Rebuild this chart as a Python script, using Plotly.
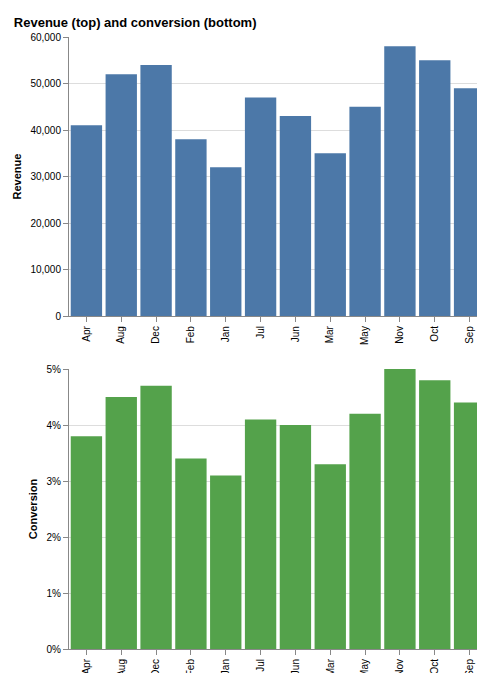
import plotly.graph_objects as go
from plotly.subplots import make_subplots

months = ["Apr","Aug","Dec","Feb","Jan","Jul","Jun","Mar","May","Nov","Oct","Sep"]
revenue = [41000,52000,54000,38000,32000,47000,43000,35000,45000,58000,55000,49000]
conversion = [0.038,0.045,0.047,0.034,0.031,0.041,0.040,0.033,0.042,0.050,0.048,0.044]

fig = make_subplots(rows=2, cols=1)
fig.add_trace(go.Bar(x=months, y=revenue, marker_color="#4c78a8", marker_line_width=0), 1, 1)
fig.add_trace(go.Bar(x=months, y=conversion, marker_color="#54a24b", marker_line_width=0), 2, 1)

ax = dict(showline=True, linecolor="#888", ticks="outside", tickcolor="#888", ticklen=5,
          tickfont=dict(size=10, color="#000"), automargin=False)
fig.update_xaxes(**ax, tickangle=-90, showgrid=False)
fig.update_yaxes(**ax, gridcolor="#ddd", zeroline=False)
fig.update_layout(
    width=485, height=673, margin=dict(l=61, r=6, t=29, b=32),
    plot_bgcolor="white", paper_bgcolor="white", showlegend=False, bargap=0.1,
    font=dict(family="Arial, Liberation Sans", color="#000"),
    title=dict(text="<b>Revenue (top) and conversion (bottom)</b>", x=0.012, xanchor="left",
               y=0.978, yanchor="middle", font=dict(size=13)),
    xaxis=dict(domain=[0, 1]), xaxis2=dict(domain=[0, 1]),
    yaxis=dict(domain=[0.544, 1], range=[0, 60000], dtick=10000, tickformat=",",
               title=dict(text="<b>Revenue</b>", font=dict(size=11), standoff=6)),
    yaxis2=dict(domain=[0, 0.4575], range=[0, 0.05], dtick=0.01, tickformat=".0%",
                title=dict(text="<b>Conversion</b>", font=dict(size=11), standoff=6)),
)
fig.write_html("out.html")
